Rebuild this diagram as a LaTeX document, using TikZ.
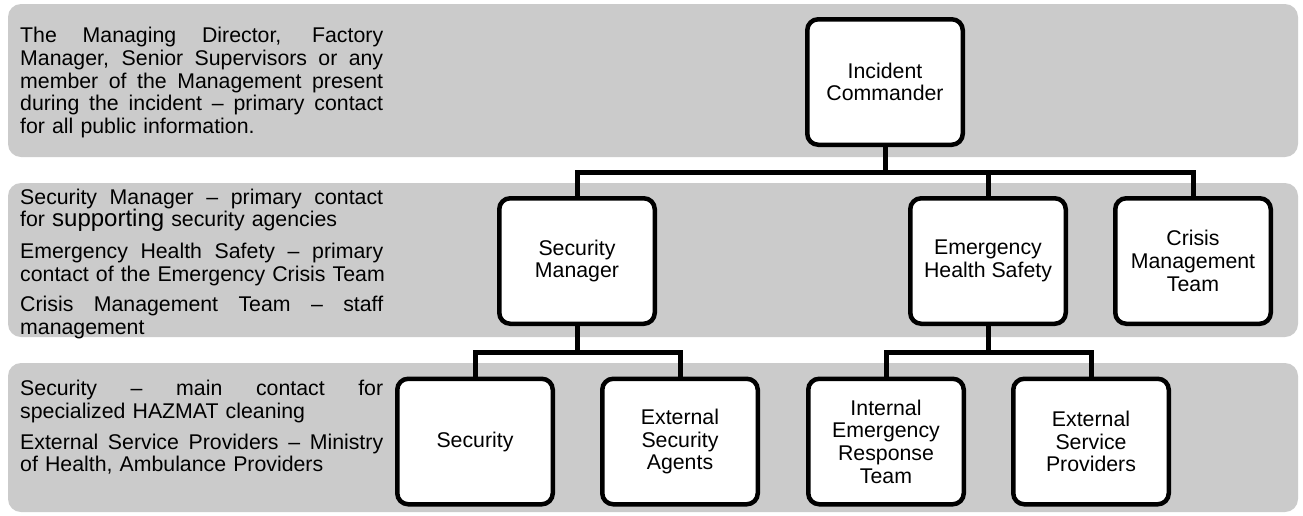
\documentclass[tikz,border=0pt]{standalone}
\usepackage{fontspec}
\setmainfont{Liberation Sans}
\definecolor{bandgray}{RGB}{203,203,203}
\newlength\colw
\setlength\colw{363pt}
\newcommand{\jline}[1]{{\spaceskip=\fontdimen2\font plus 1fil\relax\makebox[\colw][s]{#1}}}
\newcommand{\lastline}[1]{\makebox[\colw][l]{#1}}
\newcommand{\bodysize}{\fontsize{21.3}{22.7}\selectfont}
\begin{document}
\begin{tikzpicture}[x=1pt, y={(0pt,-1pt)},
  band/.style={fill=bandgray, rounded corners=13pt},
  orgbox/.style={draw=black, fill=white, line width=4.5pt, rounded corners=11pt,
    minimum width=155.5pt, minimum height=125.5pt, align=center, inner sep=2pt,
    font=\bodysize},
  conn/.style={draw=black, line width=5pt},
  sidetext/.style={anchor=north west, inner sep=0pt, text width=363pt, align=left,
    font=\bodysize}]
\useasboundingbox (0,0) rectangle (1303,515);
% bands
\fill[band] (8,4) rectangle (1298,157);
\fill[band] (8,183) rectangle (1298,337);
\fill[band] (8,363) rectangle (1298,512);
% side texts
\node[sidetext] (t1) at (20,27) {\jline{The Managing Director, Factory}\\
  \jline{Manager, Senior Supervisors or any}\\
  \jline{member of the Management present}\\
  \jline{during the incident – primary contact}\\
  \lastline{for all public information.}};
\node[sidetext] (t2) at (20,188.5) {\jline{Security Manager – primary contact}\\
  \lastline{for {\fontsize{24}{22.7}\selectfont supporting} security agencies}\\[9pt]
  \jline{Emergency Health Safety – primary}\\
  \lastline{contact of the Emergency Crisis Team}\\[8pt]
  \jline{Crisis Management Team – staff}\\
  \lastline{management}};
\node[sidetext] (t3) at (20,380) {\jline{Security – main contact for}\\
  \lastline{specialized HAZMAT cleaning}\\[8pt]
  \jline{External Service Providers – Ministry}\\
  \lastline{of Health, Ambulance Providers}};
% boxes
\node[orgbox] (ic) at (885,82) {Incident\\Commander};
\node[orgbox] (sm) at (577,261) {Security\\Manager};
\node[orgbox] (ehs) at (988,261) {Emergency\\Health Safety};
\node[orgbox] (cmt) at (1193,261) {Crisis\\Management\\Team};
\node[orgbox] (sec) at (475,441.5) {Security};
\node[orgbox] (esa) at (680,441.5) {External\\Security\\Agents};
\node[orgbox] (iert) at (886,441.5) {Internal\\Emergency\\Response\\Team};
\node[orgbox] (esp) at (1091,441.5) {External\\Service\\Providers};
% bus levels
\coordinate (bus1) at (0,172);
\coordinate (bus2) at (0,352);
% connectors
\draw[conn] (ic.south) -- (ic.south |- bus1);
\draw[conn] (sm.north) -- (sm.north |- bus1) -- (cmt.north |- bus1) -- (cmt.north);
\draw[conn] (ehs.north) -- (ehs.north |- bus1);
\draw[conn] (sm.south) -- (sm.south |- bus2);
\draw[conn] (sec.north) -- (sec.north |- bus2) -- (esa.north |- bus2) -- (esa.north);
\draw[conn] (ehs.south) -- (ehs.south |- bus2);
\draw[conn] (iert.north) -- (iert.north |- bus2) -- (esp.north |- bus2) -- (esp.north);
\end{tikzpicture}
\end{document}
